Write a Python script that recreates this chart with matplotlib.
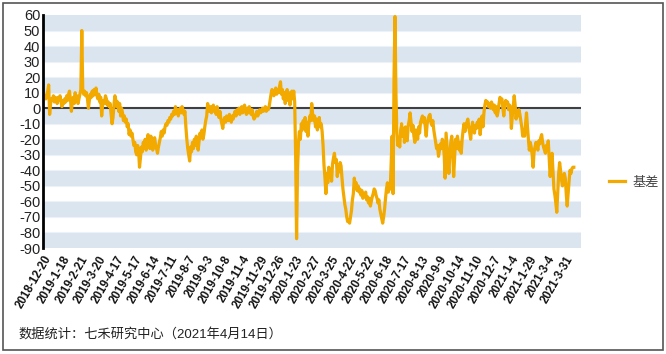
import matplotlib
matplotlib.use("Agg")
import matplotlib.pyplot as plt
import numpy as np
from matplotlib.patches import Rectangle

plt.rcParams['font.family'] = ['Liberation Sans', 'Noto Sans CJK SC', 'DejaVu Sans']

series_name = "基差"
basis = [
    8, 7, 6, 9, 11, 15, -4, 3, 6, 5, 8, 4, 7, 6, 3, 7, 5, 8, 4, 1,
    5, 3, 6, 4, 8, 5, 9, 11, 6, -2, 4, 7, 3, 10, 5, 8, 3, 6, 9, 12,
    50, 12, 9, 11, 8, 10, 6, 0, 5, 9, 7, 11, 8, 12, 9, 13, 8, 6, 9, 4,
    7, -5, 2, 5, 3, 8, 6, 2, 4, 1, 3, -4, -10, -6, 2, 8, 5, 1, 4, -2,
    3, -5, 0, -3, -8, -5, -9, -7, -12, -10, -17, -14, -18, -16, -20, -24, -22, -28, -30, -24,
    -27, -38, -32, -25, -28, -22, -25, -20, -27, -24, -17, -22, -26, -18, -21, -27, -23, -19, -24, -26,
    -29, -25, -22, -19, -15, -18, -14, -16, -12, -10, -11, -8, -9, -6, -7, -4, -5, -2, -4, 1,
    -3, -1, -5, -2, 0, -3, 1, -1, -4, -2, -12, -20, -26, -30, -34, -25, -28, -22, -26, -20,
    -24, -18, -22, -27, -21, -16, -19, -14, -20, -17, -12, -8, -5, 3, 0, -2, 1, -3, -1, 2,
    -2, 0, -4, 1, -3, -6, -2, -7, -10, -13, -8, -6, -9, -5, -7, -8, -4, -6, -9, -5,
    -7, -4, -2, -5, -1, -3, 0, -4, -2, 1, -3, -1, 2, -2, -4, 0, -3, 1, -2, -4,
    -1, -5, -7, -6, -4, -2, -5, -3, -1, -3, -2, 0, -2, -1, 1, -2, 0, -1, 1, 5,
    9, 12, 10, 8, 11, 13, 9, 12, 10, 14, 17, 9, 12, 6, 10, 3, 8, 12, 5, 10,
    2, 8, 11, 6, 11, 4, -30, -84, -40, -22, -15, -20, -10, -14, -8, -12, -6, -15, -9, -18,
    -10, -5, -8, 3, -4, -8, -5, -12, -7, -14, -9, -6, -12, -10, -15, -24, -37, -45, -55, -42,
    -48, -38, -44, -40, -47, -36, -32, -29, -35, -33, -44, -38, -41, -35, -37, -45, -52, -57, -62, -65,
    -70, -73, -72, -74, -70, -66, -59, -55, -45, -50, -48, -53, -50, -54, -52, -56, -53, -58, -55, -57,
    -54, -59, -57, -61, -58, -63, -60, -57, -55, -52, -53, -56, -58, -61, -59, -65, -68, -71, -74, -70,
    -65, -58, -52, -48, -54, -50, -52, -35, -18, -55, 20, 59, 10, -16, -24, -20, -25, -14, -10, -18,
    -13, -22, -12, -16, -21, -11, -8, -3, -9, -15, -11, -18, -22, -14, -17, -20, -12, -16, -9, -7,
    -5, -9, -6, -12, -18, -10, -7, -5, -4, -9, -11, -8, -14, -18, -22, -26, -24, -31, -27, -23,
    -26, -20, -22, -30, -45, -16, -25, -33, -42, -30, -22, -18, -28, -44, -32, -20, -26, -18, -23, -27,
    -22, -29, -20, -14, -10, -15, -12, -9, -7, -12, -16, -20, -13, -9, -14, -16, -11, -13, -9, -12,
    -7, -17, -10, -5, -12, -3, 2, 5, 3, 4, 1, 3, 0, 4, 2, -1, 2, -3, 1, -5,
    -2, 3, 7, 5, 6, 0, -5, 2, 5, 3, 4, -1, 2, 1, -13, -5, 1, 8, 2, -7,
    -2, -5, -1, -4, -8, -12, -18, -14, -18, -10, -3, -12, -20, -27, -22, -25, -30, -38, -28, -25,
    -22, -24, -27, -21, -23, -19, -17, -22, -25, -27, -29, -24, -26, -21, -33, -44, -36, -29, -40, -52,
    -56, -61, -67, -55, -42, -35, -40, -46, -50, -47, -42, -45, -55, -63, -55, -47, -40, -42, -39, -38,
    -38,
]

tick_labels = [
    "2018-12-20", "2019-1-18", "2019-2-21", "2019-3-20", "2019-4-17", "2019-5-17",
    "2019-6-14", "2019-7-11", "2019-8-7", "2019-9-3", "2019-10-8", "2019-11-4",
    "2019-11-29", "2019-12-26", "2020-1-23", "2020-2-27", "2020-3-25", "2020-4-22",
    "2020-5-22", "2020-6-18", "2020-7-17", "2020-8-13", "2020-9-9", "2020-10-14",
    "2020-11-10", "2020-12-7", "2021-1-4", "2021-1-29", "2021-3-4", "2021-3-31",
]
tick_step = 19

y_ticks = list(range(60, -91, -10))
source_text = "数据统计：七禾研究中心（2021年4月14日）"

W, H = 666, 354
fig = plt.figure(figsize=(W / 100, H / 100), dpi=100)
fig.patch.set_facecolor('white')

ax = fig.add_axes([43 / W, 1 - 248 / H, (581 - 43) / W, (248 - 15) / H])
ax.set_facecolor('white')

# alternating bands
for lo in range(-90, 60, 10):
    if ((lo + 90) // 10) % 2 == 0:
        ax.axhspan(lo, lo + 10, color='#dae5f0', lw=0, zorder=0)
    ax.axhline(lo, color='#edf2f8', lw=0.8, zorder=0.5)

x = np.arange(len(basis))
ax.axhline(0, color='#404040', lw=1.5, zorder=1)
line, = ax.plot(x, basis, color='#F2A900', lw=2.3, zorder=2, label=series_name)

ax.set_xlim(-1, 567.6)
ax.set_ylim(-90, 60)
ax.set_yticks(y_ticks)
ax.set_yticklabels([str(v) for v in y_ticks], fontsize=10.5, color='#222222')
ticks = np.arange(len(tick_labels)) * tick_step
ax.set_xticks(ticks)
ax.set_xticklabels(tick_labels, rotation=60, ha='right', rotation_mode='anchor',
                   fontsize=8.3, fontweight='bold', color='#111111')
ax.tick_params(axis='both', length=0)
ax.tick_params(axis='x', pad=4)
ax.tick_params(axis='y', pad=2)

for s in ['top', 'right', 'bottom']:
    ax.spines[s].set_visible(False)
ax.spines['left'].set_color('black')
ax.spines['left'].set_linewidth(2)

leg = fig.legend(handles=[line], labels=[series_name], loc='center left',
                 bbox_to_anchor=(609 / W, 1 - 183 / H), frameon=False,
                 fontsize=9.5, handlelength=1.2, handletextpad=0.6,
                 borderaxespad=0, borderpad=0)
for t in leg.get_texts():
    t.set_color('#444444')

fig.text(18 / W, 1 - 334 / H, source_text, fontsize=9.5, color='#222222',
         va='center', ha='left')

fig.patches.append(Rectangle((3 / W, 1 - 350 / H), 660 / W, 347 / H,
                             transform=fig.transFigure, fill=False,
                             edgecolor='#555555', lw=1.2))

fig.savefig('out.png', dpi=100)
